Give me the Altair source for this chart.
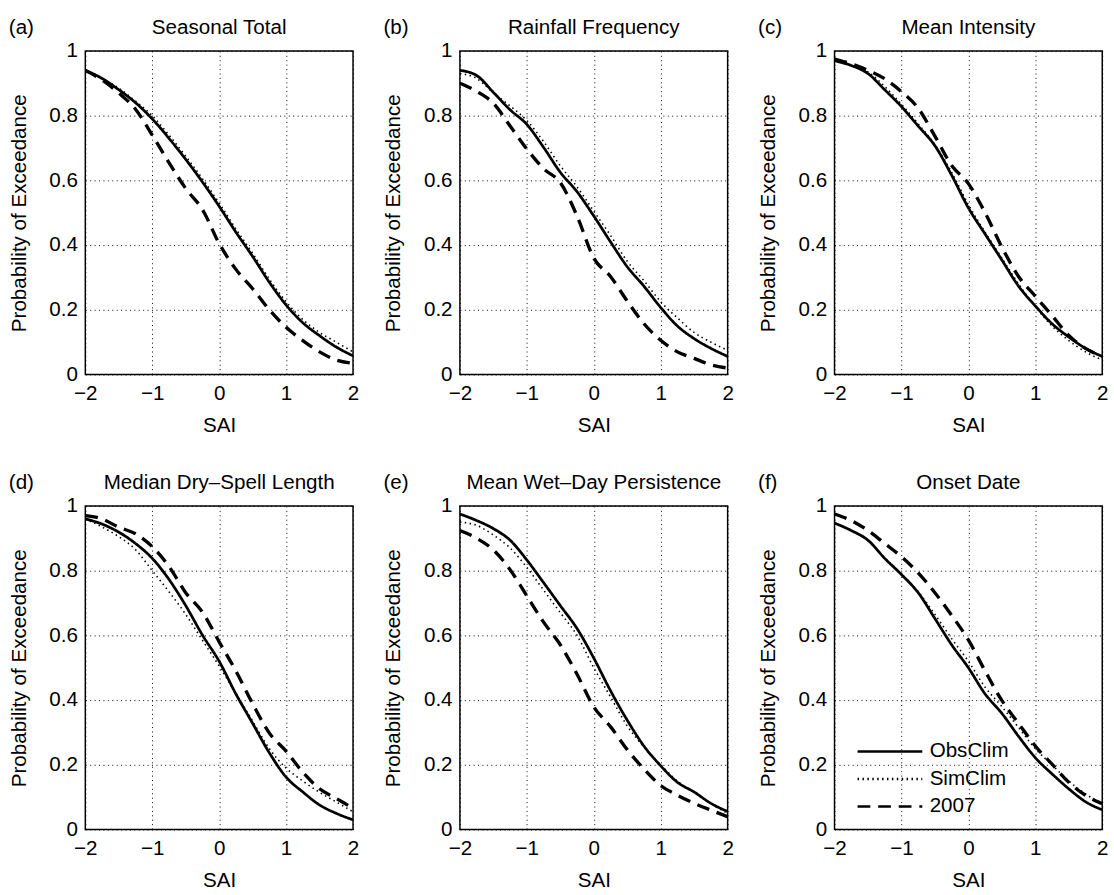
import altair as alt
import pandas as pd

FONT = "Liberation Sans"
SAI = [-2.0, -1.75, -1.5, -1.25, -1.0, -0.75, -0.5, -0.25, 0.0,
       0.25, 0.5, 0.75, 1.0, 1.25, 1.5, 1.75, 2.0]
SERIES = ["ObsClim", "SimClim", "2007"]

# (a) Seasonal Total
a_obs = [0.94, 0.915, 0.88, 0.84, 0.79, 0.73, 0.665, 0.595, 0.52, 0.44, 0.365, 0.285, 0.215, 0.16, 0.12, 0.085, 0.058]
a_sim = [0.94, 0.915, 0.885, 0.845, 0.80, 0.74, 0.675, 0.605, 0.53, 0.45, 0.375, 0.295, 0.225, 0.17, 0.13, 0.10, 0.07]
a_y07 = [0.94, 0.91, 0.87, 0.82, 0.74, 0.655, 0.575, 0.51, 0.405, 0.325, 0.265, 0.20, 0.146, 0.105, 0.07, 0.045, 0.035]
# (b) Rainfall Frequency
b_obs = [0.94, 0.924, 0.872, 0.818, 0.773, 0.702, 0.625, 0.565, 0.49, 0.41, 0.333, 0.273, 0.207, 0.15, 0.111, 0.081, 0.056]
b_sim = [0.93, 0.915, 0.87, 0.83, 0.785, 0.72, 0.645, 0.58, 0.505, 0.43, 0.35, 0.29, 0.225, 0.175, 0.13, 0.10, 0.075]
b_y07 = [0.90, 0.875, 0.838, 0.768, 0.697, 0.636, 0.593, 0.49, 0.36, 0.303, 0.227, 0.157, 0.106, 0.07, 0.05, 0.03, 0.02]
# (c) Mean Intensity
c_obs = [0.97, 0.955, 0.93, 0.88, 0.828, 0.768, 0.707, 0.616, 0.515, 0.434, 0.354, 0.273, 0.212, 0.157, 0.116, 0.081, 0.056]
c_sim = [0.97, 0.955, 0.935, 0.89, 0.835, 0.775, 0.71, 0.625, 0.525, 0.44, 0.36, 0.28, 0.21, 0.15, 0.105, 0.07, 0.045]
c_y07 = [0.975, 0.96, 0.94, 0.914, 0.874, 0.823, 0.737, 0.646, 0.59, 0.50, 0.394, 0.303, 0.242, 0.182, 0.121, 0.081, 0.056]
# (d) Median Dry-Spell Length
d_obs = [0.96, 0.944, 0.919, 0.884, 0.838, 0.773, 0.692, 0.601, 0.52, 0.419, 0.328, 0.237, 0.162, 0.116, 0.076, 0.05, 0.03]
d_sim = [0.96, 0.935, 0.905, 0.865, 0.80, 0.735, 0.665, 0.585, 0.505, 0.42, 0.335, 0.25, 0.19, 0.15, 0.115, 0.085, 0.055]
d_y07 = [0.97, 0.96, 0.934, 0.914, 0.874, 0.813, 0.732, 0.672, 0.58, 0.49, 0.389, 0.298, 0.242, 0.177, 0.126, 0.096, 0.066]
# (e) Mean Wet-Day Persistence
e_obs = [0.975, 0.955, 0.93, 0.894, 0.833, 0.763, 0.692, 0.621, 0.53, 0.429, 0.338, 0.258, 0.197, 0.146, 0.116, 0.081, 0.056]
e_sim = [0.95, 0.94, 0.91, 0.87, 0.81, 0.74, 0.67, 0.60, 0.50, 0.41, 0.32, 0.255, 0.20, 0.15, 0.115, 0.08, 0.05]
e_y07 = [0.924, 0.90, 0.864, 0.803, 0.722, 0.641, 0.571, 0.48, 0.379, 0.318, 0.247, 0.187, 0.136, 0.106, 0.081, 0.06, 0.04]
# (f) Onset Date
f_obs = [0.947, 0.924, 0.894, 0.838, 0.788, 0.732, 0.652, 0.571, 0.50, 0.419, 0.359, 0.288, 0.222, 0.172, 0.126, 0.086, 0.061]
f_sim = [0.947, 0.924, 0.894, 0.84, 0.79, 0.735, 0.665, 0.59, 0.52, 0.44, 0.38, 0.315, 0.25, 0.20, 0.15, 0.11, 0.08]
f_y07 = [0.975, 0.955, 0.924, 0.884, 0.843, 0.793, 0.732, 0.662, 0.586, 0.49, 0.399, 0.328, 0.258, 0.202, 0.146, 0.106, 0.08]

PANELS = [
    ("(a)", "Seasonal Total", a_obs, a_sim, a_y07),
    ("(b)", "Rainfall Frequency", b_obs, b_sim, b_y07),
    ("(c)", "Mean Intensity", c_obs, c_sim, c_y07),
    ("(d)", "Median Dry\u2013Spell Length", d_obs, d_sim, d_y07),
    ("(e)", "Mean Wet\u2013Day Persistence", e_obs, e_sim, e_y07),
    ("(f)", "Onset Date", f_obs, f_sim, f_y07),
]

DASHES = [[1, 0], [1.5, 3.5], [13, 8]]
WIDTHS = {"ObsClim": 2.8, "SimClim": 1.6, "2007": 3.4}

X_SCALE = alt.Scale(domain=[-2, 2], nice=False, zero=False)


def panel(letter, title, obs, sim, y07, show_legend):
    n = len(SAI)
    series = ["ObsClim"] * n + ["SimClim"] * n + ["2007"] * n
    df = pd.DataFrame({
        "SAI": SAI * 3,
        "Prob": obs + sim + y07,
        "Series": series,
        "W": [WIDTHS[s] for s in series],
    })
    if show_legend:
        leg = alt.Legend(
            orient="bottom-left", title=None, offset=13, padding=0,
            symbolType="M0,0H12", symbolSize=121, symbolStrokeColor="black",
            symbolStrokeWidth=2.6,
            labelFontSize=21, labelFont=FONT, labelColor="black",
            rowPadding=6, labelOffset=63,
        )
    else:
        leg = None
    lines = alt.Chart(df).mark_line(color="black", interpolate="monotone", clip=True).encode(
        x=alt.X("SAI:Q", scale=X_SCALE,
                axis=alt.Axis(values=[-2, -1, 0, 1, 2], format="d", title="SAI")),
        y=alt.Y("Prob:Q", scale=alt.Scale(domain=[0, 1], nice=False),
                axis=alt.Axis(values=[0, 0.2, 0.4, 0.6, 0.8, 1], format="~g",
                              title="Probability of Exceedance")),
        strokeDash=alt.StrokeDash("Series:N", scale=alt.Scale(domain=SERIES, range=DASHES),
                                  legend=leg, sort=SERIES),
        strokeWidth=alt.StrokeWidth("W:Q", scale=None, legend=None),
    )
    lab = alt.Chart(pd.DataFrame({"t": [letter]})).mark_text(
        align="left", baseline="alphabetic", fontSize=21, font=FONT, color="black"
    ).encode(text="t:N", x=alt.value(-78), y=alt.value(-17))
    ttl = alt.Chart(pd.DataFrame({"t": [title]})).mark_text(
        align="center", baseline="alphabetic", fontSize=21, font=FONT, color="black"
    ).encode(text="t:N", x=alt.datum(0), y=alt.value(-17))
    return alt.layer(lines, lab, ttl).properties(width=273, height=330)


charts = [panel(*p, show_legend=(i == 5)) for i, p in enumerate(PANELS)]


def indep(c):
    return c.resolve_scale(strokeDash="independent").resolve_legend(strokeDash="independent")


row1 = indep(alt.hconcat(*charts[:3], spacing=23))
row2 = indep(alt.hconcat(*charts[3:], spacing=23))
chart = indep(alt.vconcat(row1, row2, spacing=36)).properties(
    padding={"left": 8, "top": 8, "right": 5, "bottom": 5},
    background="white",
).configure_view(
    stroke="black", strokeWidth=1.5
).configure_axis(
    labelFont=FONT, titleFont=FONT, labelFontSize=21, titleFontSize=21,
    titleFontWeight="normal", labelColor="black", titleColor="black",
    ticks=False, domain=False, grid=True, gridColor="black", gridDash=[1, 3.5],
    gridWidth=1, gridOpacity=1, labelFlush=False, labelOverlap=False,
).configure_axisX(
    labelPadding=8, titlePadding=12,
).configure_axisY(
    labelPadding=8, titlePadding=20,
)

chart.save("out.html", embed_options={"renderer": "svg", "actions": False})
